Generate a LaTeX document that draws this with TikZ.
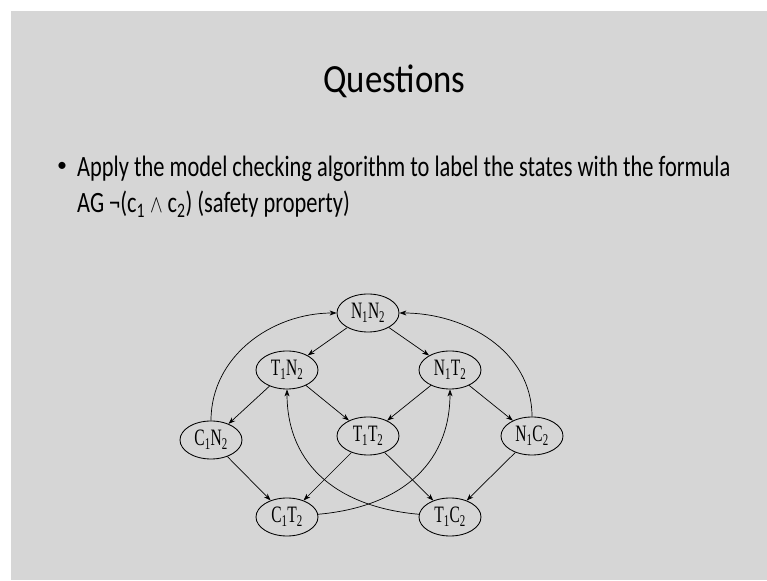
\documentclass[tikz,border=0pt]{standalone}
\usepackage{fontspec}
\setmainfont{Carlito}
\newfontfamily\statefont{Liberation Serif}
\usetikzlibrary{arrows.meta,shapes.geometric}
\definecolor{slidegray}{HTML}{D6D6D6}

% state label: letter, index, letter, index (set narrow)
\newcommand\stlabel[4]{\scalebox{0.66}[1]{#1\textsubscript{#2}#3\textsubscript{#4}}}
% narrow slide text
\newcommand\narrow[1]{\scalebox{0.76}[1]{#1}}

\begin{document}
\begin{tikzpicture}[x=1pt,y=1pt,
  state/.style={draw, ellipse, line width=0.85pt, minimum width=62pt,
    minimum height=38pt, inner sep=0pt,
    font=\statefont\fontsize{23.5}{23.5}\selectfont},
  trans/.style={-{Stealth[length=7pt,width=5pt]}, line width=0.7pt},
  bodytext/.style={anchor=base west, inner sep=0pt,
    font=\fontsize{29.5}{34}\selectfont},
]
% slide background with its white margin
\fill[white] (0,0) rectangle (767,580);
\fill[slidegray] (11,0) rectangle (767,569);
\useasboundingbox (0,0) rectangle (767,580);

% title and bullet
\node[anchor=base, inner sep=0pt, font=\fontsize{40}{46}\selectfont]
  (title) at (394.5,487) {\scalebox{0.87}[1]{Questions}};
\node[inner sep=0pt, font=\fontsize{20}{24}\selectfont] (bullet) at (62,413) {\textbullet};
\node[bodytext] (line1) at (77,403)
  {\narrow{Apply the model checking algorithm to label the states with the formula}};
\node[bodytext] (line2) at (77,367)
  {\narrow{AG ¬(c\textsubscript{1} $\wedge$ c\textsubscript{2}) (safety property)}};

% states of the mutual exclusion model
\node[state] (n1n2) at (368,267) {\stlabel N1N2};
\node[state] (t1n2) at (287,210) {\stlabel T1N2};
\node[state] (n1t2) at (450,210) {\stlabel N1T2};
\node[state] (c1n2) at (211,140) {\stlabel C1N2};
\node[state] (t1t2) at (368,144) {\stlabel T1T2};
\node[state] (n1c2) at (532,144) {\stlabel N1C2};
\node[state] (c1t2) at (287,63)  {\stlabel C1T2};
\node[state] (t1c2) at (450,63)  {\stlabel T1C2};

% transitions
\draw[trans] (n1n2) -- (t1n2);
\draw[trans] (n1n2) -- (n1t2);
\draw[trans] (t1n2) -- (c1n2);
\draw[trans] (t1n2) -- (t1t2);
\draw[trans] (n1t2) -- (t1t2);
\draw[trans] (n1t2) -- (n1c2);
\draw[trans] (c1n2) -- (c1t2);
\draw[trans] (t1t2) -- (c1t2);
\draw[trans] (t1t2) -- (t1c2);
\draw[trans] (n1c2) -- (t1c2);
\draw[trans] (c1n2) to[out=90,in=180] (n1n2);
\draw[trans] (n1c2) to[out=90,in=0] (n1n2);
\draw[trans] (c1t2) to[out=5,in=-90,looseness=1.1] (n1t2);
\draw[trans] (t1c2) to[out=175,in=-90,looseness=1.1] (t1n2);
\end{tikzpicture}
\end{document}
